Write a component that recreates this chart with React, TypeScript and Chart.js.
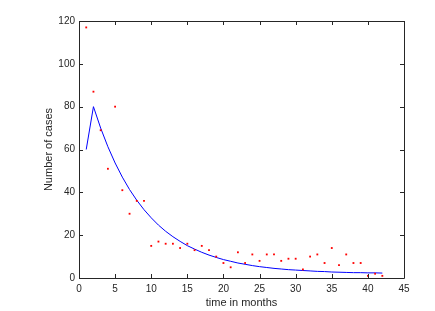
import React, { useEffect, useRef } from "react";
import { Chart, registerables } from "chart.js";

Chart.register(...registerables);

const months = [1, 2, 3, 4, 5, 6, 7, 8, 9, 10, 11, 12, 13, 14, 15, 16, 17, 18, 19, 20, 21, 22, 23, 24, 25, 26, 27, 28, 29, 30, 31, 32, 33, 34, 35, 36, 37, 38, 39, 40, 41, 42];
const observedCases = [117, 87, 69, 51, 80, 41, 30, 36, 36, 15, 17, 16, 16, 14, 16, 13, 15, 13, 10, 7, 5, 12, 7, 11, 8, 11, 11, 8, 9, 9, 4, 10, 11, 7, 14, 6, 11, 7, 7, 1, 2, 1];
const fittedCases = [60, 80, 70, 61.3, 53.7, 47.1, 41.3, 36.3, 31.9, 28.1, 24.7, 21.8, 19.3, 17.1, 15.1, 13.5, 12.0, 10.7, 9.6, 8.6, 7.8, 7.0, 6.4, 5.8, 5.3, 4.9, 4.5, 4.2, 3.9, 3.7, 3.5, 3.3, 3.1, 3.0, 2.8, 2.7, 2.6, 2.5, 2.5, 2.4, 2.4, 2.3];
const xTicks = [0, 5, 10, 15, 20, 25, 30, 35, 40, 45];
const yTicks = [0, 20, 40, 60, 80, 100, 120];

const AXIS_COLOR = "#262626";
const FONT = "'Liberation Sans', Arial, Helvetica, sans-serif";

const framePlugin = {
  id: "matlabFrame",
  afterDatasetsDraw(chart: any) {
    const { ctx, chartArea } = chart;
    const { left, right, top, bottom } = chartArea;
    const xs = chart.scales.x;
    const ys = chart.scales.y;
    const len = 4;
    ctx.save();
    ctx.strokeStyle = AXIS_COLOR;
    ctx.lineWidth = 1;
    ctx.beginPath();
    ctx.rect(Math.round(left) + 0.5, Math.round(top) + 0.5, Math.round(right - left), Math.round(bottom - top));
    ctx.stroke();
    ctx.beginPath();
    xTicks.forEach((v) => {
      const px = Math.round(xs.getPixelForValue(v)) + 0.5;
      ctx.moveTo(px, bottom);
      ctx.lineTo(px, bottom - len);
      ctx.moveTo(px, top);
      ctx.lineTo(px, top + len);
    });
    yTicks.forEach((v) => {
      const py = Math.round(ys.getPixelForValue(v)) + 0.5;
      ctx.moveTo(left, py);
      ctx.lineTo(left + len, py);
      ctx.moveTo(right, py);
      ctx.lineTo(right - len, py);
    });
    ctx.stroke();
    ctx.restore();
  },
};

export default function App() {
  const canvasRef = useRef<HTMLCanvasElement | null>(null);

  useEffect(() => {
    if (!canvasRef.current) return;
    const chart = new Chart(canvasRef.current, {
      type: "scatter",
      data: {
        datasets: [
          {
            label: "observed",
            data: months.map((m, i) => ({ x: m, y: observedCases[i] })),
            showLine: false,
            pointStyle: "rect",
            pointRadius: 1.3,
            pointBorderWidth: 0,
            backgroundColor: "#ff0000",
            borderColor: "#ff0000",
          },
          {
            label: "fitted",
            data: months.map((m, i) => ({ x: m, y: fittedCases[i] })),
            showLine: true,
            pointRadius: 0,
            borderColor: "#0000ff",
            borderWidth: 1,
            tension: 0,
            fill: false,
          },
        ],
      },
      options: {
        animation: false,
        responsive: false,
        layout: { padding: { left: 36, top: 21, right: 31, bottom: 0 } },
        plugins: {
          legend: { display: false },
          tooltip: { enabled: false },
        },
        scales: {
          x: {
            type: "linear",
            min: 0,
            max: 45,
            afterFit: (s: any) => {
              s.height = 33;
            },
            afterBuildTicks: (s: any) => {
              s.ticks = xTicks.map((v) => ({ value: v }));
            },
            grid: { display: false, drawTicks: false },
            border: { display: false },
            ticks: {
              padding: 5,
              color: AXIS_COLOR,
              font: { family: FONT, size: 10 },
              maxRotation: 0,
            },
            title: {
              display: true,
              text: "time in months",
              color: AXIS_COLOR,
              font: { family: FONT, size: 11 },
              padding: { top: 0, bottom: 1 },
            },
          },
          y: {
            type: "linear",
            min: 0,
            max: 120,
            afterFit: (s: any) => {
              s.width = 43;
            },
            afterBuildTicks: (s: any) => {
              s.ticks = yTicks.map((v) => ({ value: v }));
            },
            grid: { display: false, drawTicks: false },
            border: { display: false },
            ticks: {
              padding: 4,
              color: AXIS_COLOR,
              font: { family: FONT, size: 10 },
            },
            title: {
              display: true,
              text: "Number of cases",
              color: AXIS_COLOR,
              font: { family: FONT, size: 11 },
              padding: { top: 6, bottom: 0 },
            },
          },
        },
      },
      plugins: [framePlugin],
    });
    return () => chart.destroy();
  }, []);

  return (
    <canvas
      ref={canvasRef}
      width={435}
      height={311}
      style={{ position: "absolute", left: 0, top: 0, width: 435, height: 311, background: "#ffffff" }}
    />
  );
}
